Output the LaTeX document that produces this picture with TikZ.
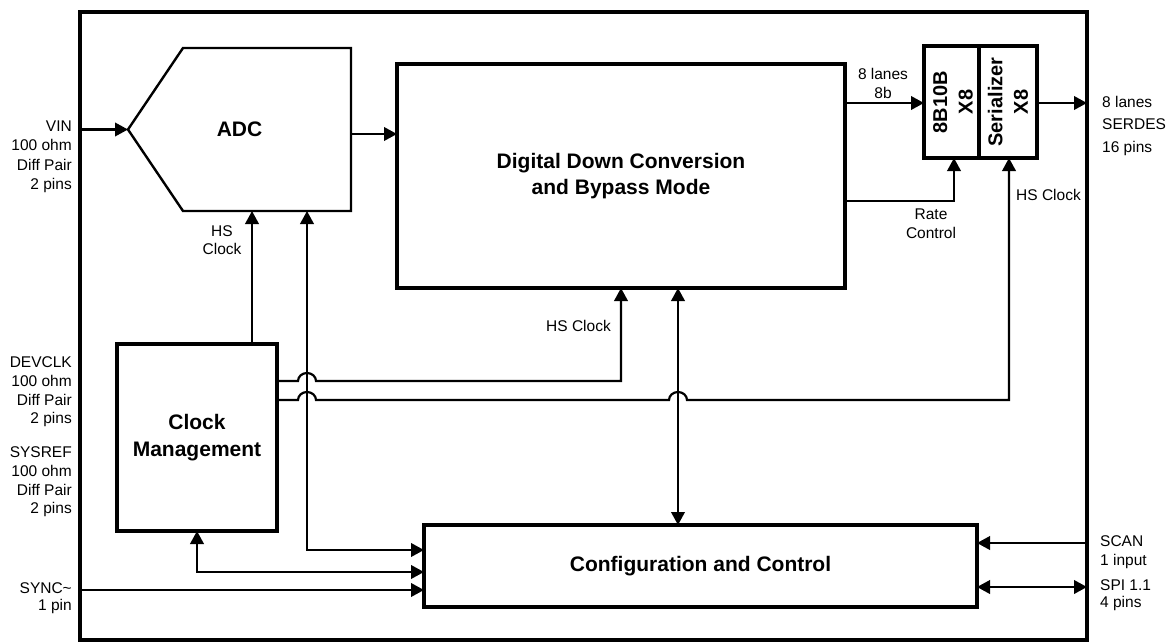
\documentclass[tikz,border=0pt]{standalone}
\usepackage{fontspec}
\setmainfont{Liberation Sans}
\usetikzlibrary{arrows.meta}
\tikzset{
  box/.style={draw, line width=3.8pt, inner sep=0pt, outer sep=0pt, align=center,
              font=\fontsize{21}{26.5}\selectfont\bfseries},
  tip/.tip={Triangle[length=13pt,width=13.5pt]},
  conn/.style={line width=2.2pt, -tip},
  bidir/.style={line width=2.2pt, tip-tip},
  lbl/.style={font=\fontsize{15.5}{19.5}\selectfont, inner sep=0pt},
  vlbl/.style={font=\fontsize{20}{25.5}\selectfont\bfseries, inner sep=0pt, align=center, rotate=90},
}
\begin{document}
\begin{tikzpicture}[x=1pt,y=-1pt]
\useasboundingbox (0,0) rectangle (1167,642);
% blocks
\node[box, minimum width=1007pt, minimum height=628pt] (frame) at (583.5,326) {};
\node[inner sep=0pt, outer sep=0pt, minimum width=223pt, minimum height=163pt,
      font=\fontsize{21}{26.5}\selectfont\bfseries] (adc) at (239.5,129.5) {ADC};
\draw[line width=2.4pt, line join=miter] (adc.west) -- ([xshift=55pt]adc.north west) -- (adc.north east)
   -- (adc.south east) -- ([xshift=55pt]adc.south west) -- cycle;
\node[box, minimum width=448pt, minimum height=224pt] (ddc) at (621,176) {Digital Down Conversion\\and Bypass Mode};
\node[box, minimum width=55pt, minimum height=112pt] (enc) at (951.5,102) {};
\node[box, minimum width=58pt, minimum height=112pt] (ser) at (1008,102) {};
\node[vlbl] at ([xshift=1.5pt]enc.center) {8B10B\\X8};
\node[vlbl] at (ser) {Serializer\\X8};
\node[box, minimum width=160pt, minimum height=187pt] (clk) at (197,437.5) {Clock\\Management};
\node[box, minimum width=553pt, minimum height=82pt] (cfg) at (700.5,566) {Configuration and Control};

% connectors
\draw[conn] (frame.west |- adc.west) -- (adc.west);
\draw[conn] (adc.east |- 0,134) -- (ddc.west |- 0,134);
\draw[conn] (ddc.east |- 0,103) -- (enc.west |- 0,103);
\draw[conn] (ser.east |- 0,103) -- (frame.east |- 0,103);
\draw[conn] (ddc.east |- 0,201) -| (enc.south -| 954,0);
\draw[conn] (clk.east |- 0,400) -- (298,400) arc[start angle=180, end angle=360, x radius=9, y radius=8]
   -- (669,400) arc[start angle=180, end angle=360, x radius=9, y radius=8] -- (1009,400) -- (ser.south -| 1009,0);
\draw[conn] (clk.east |- 0,381) -- (298,381) arc[start angle=180, end angle=360, x radius=9, y radius=8]
   -- (621,381) -- (ddc.south -| 621,0);
\draw[conn] (clk.north -| 252,0) -- (adc.south -| 252,0);
\draw[bidir] (adc.south -| 307,0) -- (307,550) -- (cfg.west |- 0,550);
\draw[bidir] (cfg.west |- 0,572) -| (clk.south);
\draw[conn] (frame.west |- 0,590) -- (cfg.west |- 0,590);
\draw[bidir] (ddc.south -| 678,0) -- (cfg.north -| 678,0);
\draw[conn] (frame.east |- 0,543) -- (cfg.east |- 0,543);
\draw[bidir] (cfg.east |- 0,587) -- (frame.east |- 0,587);

% labels
\node[lbl, align=right, anchor=east] (tvin) at (72,157) {VIN\\100 ohm\\Diff Pair\\2 pins};
\node[lbl, align=right, anchor=east, font=\fontsize{15.5}{18.7}\selectfont] (tdev) at (72,392) {DEVCLK\\100 ohm\\Diff Pair\\2 pins};
\node[lbl, align=right, anchor=east, font=\fontsize{15.5}{18.7}\selectfont] (tsys) at (72,482) {SYSREF\\100 ohm\\Diff Pair\\2 pins};
\node[lbl, align=right, anchor=east, font=\fontsize{15.5}{16.5}\selectfont] (tsync) at (72,598) {SYNC\textasciitilde\\1 pin};
\node[lbl, align=left, anchor=west, font=\fontsize{15.5}{19}\selectfont] (tscan) at (1100,552.5) {SCAN\\1 input};
\node[lbl, align=left, anchor=west, font=\fontsize{15.5}{16.5}\selectfont] (tspi) at (1100,595) {SPI 1.1\\4 pins};
\node[lbl, align=left, anchor=west, font=\fontsize{15.5}{22.5}\selectfont] (tout) at (1102,125.5) {8 lanes\\SERDES\\16 pins};
\node[lbl, align=center, font=\fontsize{15.5}{19}\selectfont] (tlanes) at (883,83.5) {8 lanes\\8b};
\node[lbl, align=center, font=\fontsize{15.5}{19}\selectfont] (trate) at (931,223.5) {Rate\\Control};
\node[lbl, anchor=west] (thss) at (1016,195) {HS Clock};
\node[lbl, anchor=east] (thsd) at (611,326) {HS Clock};
\node[lbl, align=center, font=\fontsize{15.5}{18}\selectfont] (thsa) at (222,240) {HS\\Clock};
\end{tikzpicture}
\end{document}
